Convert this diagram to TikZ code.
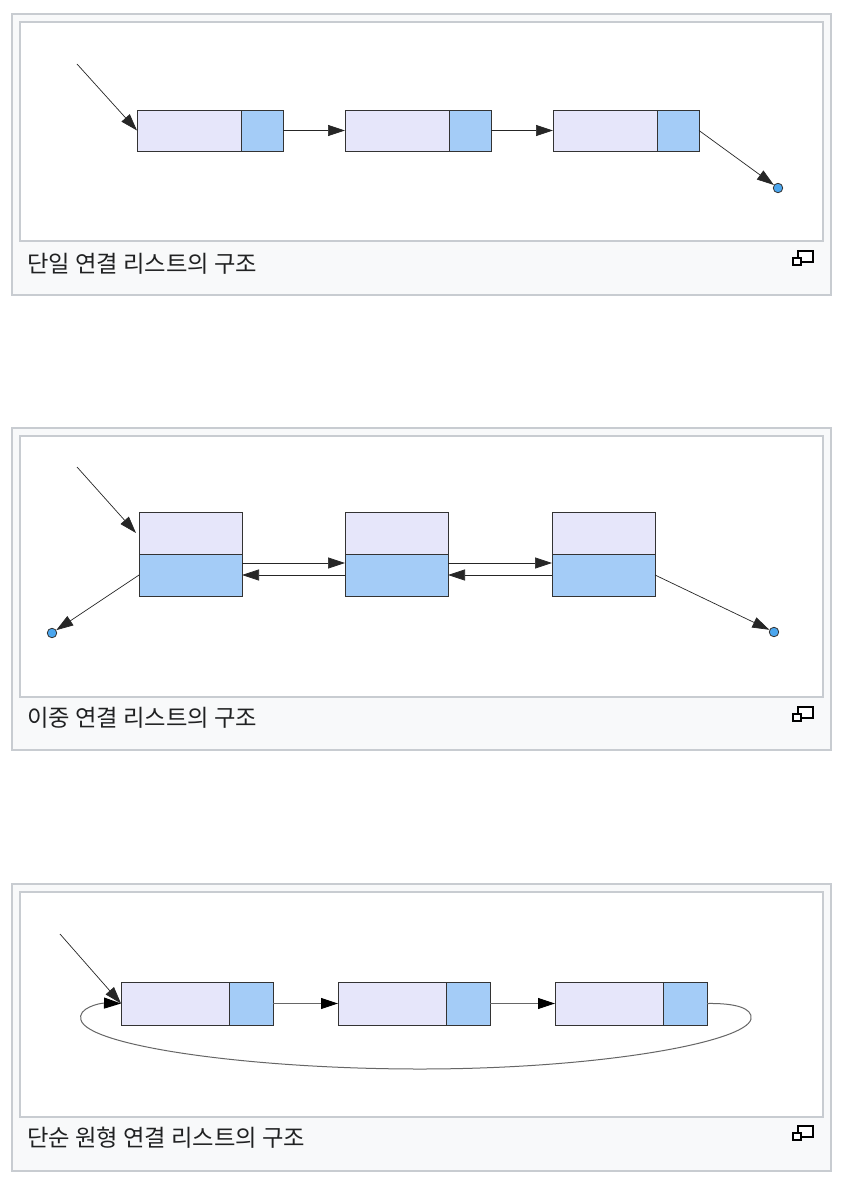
\documentclass[tikz,border=0pt]{standalone}
\usepackage{fontspec}
\newfontfamily\kr{Noto Sans CJK KR}
\usetikzlibrary{arrows.meta,positioning}

\definecolor{framec}{HTML}{C8CCD1}
\definecolor{capbg}{HTML}{F8F9FA}
\definecolor{datafill}{HTML}{E6E6FA}
\definecolor{linkfill}{HTML}{A4CCF7}
\definecolor{dotfill}{HTML}{4BA6EE}
\definecolor{cellline}{HTML}{333333}
\definecolor{captext}{HTML}{202122}

\begin{document}
\begin{tikzpicture}[
  x=1pt, y=1pt,
  frame/.style={draw=framec, line width=1.5pt, fill=capbg},
  pane/.style={draw=framec, line width=1.5pt, fill=white},
  captxt/.style={font=\kr\fontsize{23.3}{27}\selectfont, text=captext, anchor=west, inner sep=0},
  cell/.style={draw=cellline, line width=0.9pt, inner sep=0, outer sep=0},
  datacell/.style={cell, fill=datafill},
  linkcell/.style={cell, fill=linkfill},
  nulldot/.style={circle, draw=cellline, fill=dotfill, line width=0.8pt, minimum size=9.5pt, inner sep=0},
  ptr/.style={-{Triangle[length=17pt,width=11pt]}, line width=0.7pt, draw=black!85},
  loopptr/.style={-{Triangle[length=17pt,width=11pt,black]}, line width=1pt, draw=black!60},
  icon/.style={draw=black, line width=1.2pt, fill=white},
]

\useasboundingbox (0,0) rectangle (844,-1180);

% ── Panel frames ──
\draw[frame] (12,-14) rectangle (831,-295);
\draw[pane] (20,-22) rectangle (823,-241);
\draw[frame] (12,-428) rectangle (831,-750);
\draw[pane] (20,-436) rectangle (823,-697);
\draw[frame] (12,-884) rectangle (831,-1171);
\draw[pane] (20,-892) rectangle (823,-1117);

% expand icons
\foreach \y in {251,707,1126} {
  \draw[icon] (798,-\y) rectangle (813,{-\y-11});
  \draw[icon] (793,{-\y-7}) rectangle (801,{-\y-14});
}

% ── Singly linked list ──
\node[datacell, minimum width=104pt, minimum height=41pt] (a1) at (189,-130.5) {};
\node[linkcell, minimum width=42pt, minimum height=41pt, right=0pt of a1] (p1) {};
\node[datacell, minimum width=104pt, minimum height=41pt] (a2) at (397,-130.5) {};
\node[linkcell, minimum width=42pt, minimum height=41pt, right=0pt of a2] (p2) {};
\node[datacell, minimum width=104pt, minimum height=41pt] (a3) at (605,-130.5) {};
\node[linkcell, minimum width=42pt, minimum height=41pt, right=0pt of a3] (p3) {};
\node[nulldot] (z1) at (778,-188) {};
\coordinate (h1) at (77,-64);

\draw[ptr] (h1) -- (a1.west);
\draw[ptr] (p1.east) -- (a2.west);
\draw[ptr] (p2.east) -- (a3.west);
\draw[ptr] (p3.east) -- (z1);

\node[captxt] (cap1) at (27,-264) {단일 연결 리스트의 구조};

% ── Doubly linked list ──
\node[datacell, minimum width=103pt, minimum height=42pt] (b1) at (190.5,-533) {};
\node[linkcell, minimum width=103pt, minimum height=42pt, below=0pt of b1] (q1) {};
\node[datacell, minimum width=103pt, minimum height=42pt] (b2) at (396.5,-533) {};
\node[linkcell, minimum width=103pt, minimum height=42pt, below=0pt of b2] (q2) {};
\node[datacell, minimum width=103pt, minimum height=42pt] (b3) at (603.5,-533) {};
\node[linkcell, minimum width=103pt, minimum height=42pt, below=0pt of b3] (q3) {};
\node[nulldot] (z2) at (52,-633) {};
\node[nulldot] (z3) at (774,-632) {};
\coordinate (h2) at (77,-467);

\draw[ptr] (h2) -- ([xshift=-3pt]b1.west);
\draw[ptr] (q1.west) -- (z2);
\draw[ptr] (q3.east) -- (z3);
\foreach \l/\r in {q1/q2,q2/q3} {
  \draw[ptr] ([yshift=12pt]\l.east) -- ([yshift=12pt]\r.west);
  \draw[ptr] (\r.west) -- (\l.east);
}

\node[captxt] (cap2) at (27,-718) {이중 연결 리스트의 구조};

% ── Circular linked list ──
\node[datacell, minimum width=108pt, minimum height=43pt] (c1) at (175,-1003.5) {};
\node[linkcell, minimum width=44pt, minimum height=43pt, right=0pt of c1] (r1) {};
\node[datacell, minimum width=108pt, minimum height=43pt] (c2) at (392,-1003.5) {};
\node[linkcell, minimum width=44pt, minimum height=43pt, right=0pt of c2] (r2) {};
\node[datacell, minimum width=108pt, minimum height=43pt] (c3) at (609,-1003.5) {};
\node[linkcell, minimum width=44pt, minimum height=43pt, right=0pt of c3] (r3) {};
\coordinate (h3) at (60,-934);

\draw[ptr] (h3) -- (c1.west);
\draw[loopptr] (r1.east) -- (c2.west);
\draw[loopptr] (r2.east) -- (c3.west);
\draw[loopptr] (r3.east)
  .. controls (735,-1003) and (753,-1008) .. (751,-1019)
  .. controls (746,-1042) and (600,-1069) .. (420,-1069)
  .. controls (250,-1069) and (88,-1046) .. (81,-1020)
  .. controls (77,-1008) and (100,-1003) .. (c1.west);

\node[captxt] (cap3) at (27,-1138) {단순 원형 연결 리스트의 구조};

\end{tikzpicture}
\end{document}
